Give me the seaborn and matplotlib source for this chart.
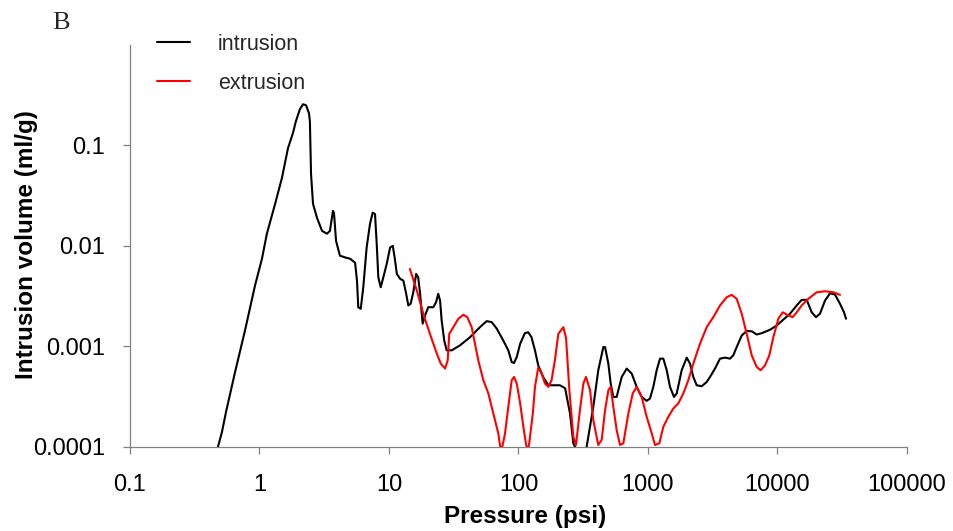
import matplotlib
matplotlib.use("Agg")
import matplotlib.pyplot as plt
from matplotlib.ticker import NullLocator
import seaborn as sns
import pandas as pd

# ---------------- data ----------------
intrusion_pressure = [
    0.478, 0.513, 0.551, 0.647, 0.773, 0.923, 1.045, 1.14, 1.32, 1.49,
    1.66, 1.81, 1.91, 2.05, 2.17, 2.29, 2.41, 2.45, 2.50, 2.59,
    2.78, 3.04, 3.32, 3.50, 3.69, 3.76, 3.90, 4.18, 4.66, 5.00,
    5.47, 5.66, 5.79, 6.05, 6.33, 6.72, 7.13, 7.48, 7.80, 8.04,
    8.27, 8.63, 9.04, 9.60, 10.2, 10.7, 11.1, 11.5, 12.2, 12.9,
    13.5, 14.1, 14.7, 15.4, 16.2, 16.8, 17.4, 17.9, 18.2, 19.0,
    20.1, 22.0, 23.1, 24.0, 24.8, 25.5, 26.7, 27.9, 30.5, 35.3,
    42.2, 50.4, 56.8, 62.1, 67.9, 76.3, 83.4, 88.6, 92.3, 96.9,
    103, 112, 119, 126, 134, 142, 155, 170, 186, 209,
    229, 250, 265, 273, 304, 336, 378, 413, 452, 466,
    494, 515, 540, 573, 590, 627, 685, 748, 818, 894,
    977, 1036, 1099, 1167, 1238, 1313, 1395, 1479, 1588, 1666,
    1820, 1990, 2110, 2238, 2377, 2598, 2840, 3012, 3291, 3597,
    3932, 4297, 4557, 4841, 5293, 5783, 6322, 6910, 7552, 8750,
    9860, 11090, 12490, 14070, 15380, 16810, 18370, 19820, 21290, 23270,
    25430, 27800, 30380, 32620, 33810,
]
intrusion_volume = [
    1.0e-4, 1.40e-4, 2.21e-4, 5.51e-4, 1.44e-3, 4.02e-3, 7.45e-3, 0.0132, 0.0262, 0.0474,
    0.094, 0.132, 0.174, 0.229, 0.257, 0.251, 0.209, 0.174, 0.0519, 0.0262,
    0.0190, 0.0141, 0.0132, 0.0141, 0.0223, 0.0213, 0.0112, 7.98e-3, 7.62e-3, 7.45e-3,
    6.80e-3, 4.51e-3, 2.45e-3, 2.36e-3, 3.87e-3, 9.64e-3, 0.0165, 0.0214, 0.0207, 0.0104,
    4.86e-3, 3.87e-3, 4.86e-3, 6.60e-3, 9.64e-3, 0.0100, 7.40e-3, 5.25e-3, 4.69e-3, 4.51e-3,
    3.45e-3, 2.55e-3, 2.65e-3, 3.45e-3, 5.25e-3, 4.86e-3, 3.33e-3, 2.11e-3, 1.68e-3, 2.03e-3,
    2.45e-3, 2.45e-3, 2.75e-3, 3.33e-3, 2.85e-3, 1.81e-3, 1.14e-3, 9.11e-4, 9.11e-4, 1.02e-3,
    1.23e-3, 1.55e-3, 1.78e-3, 1.74e-3, 1.50e-3, 1.14e-3, 9.11e-4, 6.97e-4, 6.81e-4, 7.81e-4,
    1.06e-3, 1.35e-3, 1.38e-3, 1.23e-3, 9.11e-4, 6.46e-4, 4.95e-4, 4.09e-4, 4.09e-4, 4.09e-4,
    3.82e-4, 2.14e-4, 1.08e-4, 1.0e-4, 7.0e-5, 1.0e-4, 2.49e-4, 5.77e-4, 9.82e-4, 9.82e-4,
    6.72e-4, 4.26e-4, 3.13e-4, 3.13e-4, 3.65e-4, 4.95e-4, 6.00e-4, 5.35e-4, 3.94e-4, 3.13e-4,
    2.86e-4, 3.02e-4, 3.94e-4, 5.77e-4, 7.53e-4, 7.53e-4, 5.77e-4, 3.94e-4, 3.13e-4, 3.39e-4,
    5.77e-4, 7.71e-4, 6.72e-4, 4.95e-4, 4.09e-4, 4.00e-4, 4.41e-4, 4.95e-4, 6.00e-4, 7.53e-4,
    7.71e-4, 7.53e-4, 8.13e-4, 9.82e-4, 1.28e-3, 1.42e-3, 1.41e-3, 1.31e-3, 1.35e-3, 1.46e-3,
    1.61e-3, 1.84e-3, 2.11e-3, 2.55e-3, 2.90e-3, 2.90e-3, 2.18e-3, 1.95e-3, 2.11e-3, 2.85e-3,
    3.37e-3, 3.27e-3, 2.65e-3, 2.18e-3, 1.88e-3,
]

extrusion_pressure = [
    14.5, 16.4, 18.4, 20.7, 23.4, 25.1, 27.1, 28.4, 29.2, 31.4,
    34.3, 37.5, 40.2, 43.5, 46.1, 48.9, 53.5, 58.5, 63.9, 69.8,
    71.9, 73.6, 75.5, 78.7, 83.4, 88.6, 92.3, 96.9, 103, 109,
    114, 118, 121, 129, 134, 142, 151, 160, 170, 180,
    191, 203, 222, 233, 247, 265, 278, 298, 317, 332,
    357, 378, 413, 439, 466, 494, 515, 540, 573, 608,
    645, 705, 762, 818, 894, 977, 1068, 1132, 1223, 1313,
    1435, 1568, 1714, 1874, 2047, 2238, 2520, 2840, 3193, 3597,
    4053, 4430, 4841, 5293, 5783, 6322, 6910, 7413, 8010, 8646,
    9282, 10150, 10970, 12120, 13110, 14070, 15380, 17300, 20080, 23270,
    26970, 30380,
]
extrusion_volume = [
    5.89e-3, 3.59e-3, 2.11e-3, 1.33e-3, 8.45e-4, 6.72e-4, 6.00e-4, 7.25e-4, 1.33e-3, 1.55e-3,
    1.88e-3, 2.06e-3, 1.95e-3, 1.55e-3, 1.06e-3, 7.25e-4, 4.59e-4, 3.39e-4, 2.14e-4, 1.36e-4,
    1.04e-4, 9.0e-5, 1.04e-4, 1.36e-4, 2.49e-4, 4.59e-4, 4.95e-4, 4.26e-4, 2.70e-4, 1.58e-4,
    1.08e-4, 9.0e-5, 1.08e-4, 2.14e-4, 3.94e-4, 6.13e-4, 5.35e-4, 4.26e-4, 3.94e-4, 4.59e-4,
    7.25e-4, 1.33e-3, 1.55e-3, 1.20e-3, 3.65e-4, 1.26e-4, 1.04e-4, 2.31e-4, 4.26e-4, 4.95e-4,
    3.65e-4, 1.84e-4, 1.04e-4, 1.17e-4, 2.31e-4, 3.65e-4, 3.94e-4, 2.49e-4, 1.46e-4, 1.04e-4,
    1.08e-4, 2.14e-4, 3.39e-4, 3.94e-4, 3.13e-4, 1.98e-4, 1.36e-4, 1.04e-4, 1.08e-4, 1.58e-4,
    1.98e-4, 2.40e-4, 2.70e-4, 3.39e-4, 4.59e-4, 6.72e-4, 1.06e-3, 1.55e-3, 1.95e-3, 2.55e-3,
    3.08e-3, 3.25e-3, 2.97e-3, 2.11e-3, 1.33e-3, 8.13e-4, 6.22e-4, 5.77e-4, 6.46e-4, 8.13e-4,
    1.23e-3, 1.88e-3, 2.18e-3, 2.03e-3, 1.95e-3, 2.18e-3, 2.55e-3, 2.97e-3, 3.45e-3, 3.53e-3,
    3.45e-3, 3.25e-3,
]

series_names = ["intrusion", "extrusion"]
x_tick_values = [0.1, 1, 10, 100, 1000, 10000, 100000]
x_tick_labels = ["0.1", "1", "10", "100", "1000", "10000", "100000"]
y_tick_values = [0.0001, 0.001, 0.01, 0.1]
y_tick_labels = ["0.0001", "0.001", "0.01", "0.1"]
x_label = "Pressure (psi)"
y_label = "Intrusion volume (ml/g)"
panel_label = "B"

# ---------------- style ----------------
sns.set_theme(style="white")
plt.rcParams["font.family"] = ["Liberation Sans", "DejaVu Sans"]

W, H = 954, 531
fig = plt.figure(figsize=(W / 100, H / 100), dpi=100)
ax = fig.add_axes([130 / W, 1 - 446.7 / H, 777 / W, 401.7 / H])

df_in = pd.DataFrame({"Pressure": intrusion_pressure, "Volume": intrusion_volume})
df_ex = pd.DataFrame({"Pressure": extrusion_pressure, "Volume": extrusion_volume})

sns.lineplot(data=df_in, x="Pressure", y="Volume", ax=ax, color="black",
             linewidth=1.5, sort=False, estimator=None, label=series_names[0])
sns.lineplot(data=df_ex, x="Pressure", y="Volume", ax=ax, color="#ff0000",
             linewidth=1.5, sort=False, estimator=None, label=series_names[1])

ax.set_xscale("log")
ax.set_yscale("log")
ax.set_xlim(0.1, 100000)
ax.set_ylim(1e-4, 1)
ax.set_xticks(x_tick_values, labels=x_tick_labels)
ax.set_yticks(y_tick_values, labels=y_tick_labels)
ax.xaxis.set_minor_locator(NullLocator())
ax.yaxis.set_minor_locator(NullLocator())

sns.despine(ax=ax)
for s in ("left", "bottom"):
    ax.spines[s].set_color("#808080")
    ax.spines[s].set_linewidth(0.9)

ax.tick_params(axis="both", which="major", bottom=True, left=True,
               direction="out", length=5, width=0.9, color="#808080",
               labelsize=17, labelcolor="black")
ax.tick_params(axis="x", pad=15)
ax.tick_params(axis="y", pad=13)
ax.grid(False)

ax.set_xlabel(x_label, fontsize=17.5, fontweight="bold", color="black")
ax.set_ylabel(y_label, fontsize=17.5, fontweight="bold", color="black")
ax.xaxis.set_label_coords(0.508, -0.144)
ax.yaxis.set_label_coords(-0.118, 0.502)

leg = ax.legend(loc="upper left", bbox_to_anchor=(157 / W, 1 - 33.6 / H),
                bbox_transform=fig.transFigure, frameon=False, fontsize=15.5,
                handlelength=1.53, handletextpad=1.3, labelspacing=0.85,
                borderpad=0, borderaxespad=0)
for line in leg.get_lines():
    line.set_linewidth(1.5)

fig.text(52 / W, 1 - 29 / H, panel_label, fontsize=19,
         family=["Liberation Serif", "DejaVu Serif"], ha="left", va="baseline")

fig.savefig("out.png", dpi=100)
